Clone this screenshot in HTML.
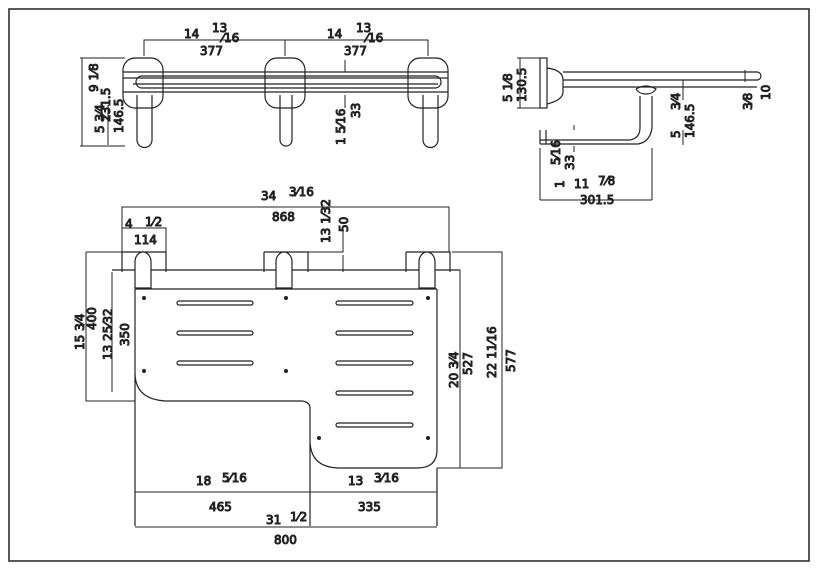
<!DOCTYPE html>
<html><head><style>body{margin:0;background:#fff}svg{display:block}text{font-family:"DejaVu Sans","Liberation Sans",sans-serif;font-size:12px;fill:#222;font-weight:normal}</style></head><body>
<svg width="818" height="571" viewBox="0 0 818 571" fill="none" stroke="#222" stroke-width="1">
<rect x="9" y="9" width="800" height="552" stroke-width="1.5"/>
<!-- FRONT VIEW -->
<path d="M144 56V40H428V56M285 40V56"/>
<g stroke-width="1.2">
<rect x="123" y="58" width="40" height="50" rx="12"/>
<rect x="265" y="58" width="40" height="50" rx="12"/>
<rect x="408" y="58" width="40" height="50" rx="12"/>
<path d="M123 72H448M123 78H448M133 84H438M123 92H448"/>
<rect x="136" y="76" width="305" height="12" rx="6"/>
<path d="M137 95V140a7 7 0 0 0 15 0V95M280 95V140a6 6 0 0 0 12 0V95M423 95V140a7 7 0 0 0 15 0V95"/>
</g>
<path d="M80 58H125M80 146H125M82 58V146M108 105V145M345 60V72M345 95V108"/>
<text x="184" y="38">14</text><text x="212" y="32">13</text><text x="222" y="42">⁄16</text><text x="200" y="55">377</text>
<text x="327" y="38">14</text><text x="356" y="32">13</text><text x="366" y="42">⁄16</text><text x="344" y="55">377</text>
<text transform="translate(98 92) rotate(-90)">9 1⁄8</text>
<text transform="translate(110 122) rotate(-90)">231.5</text>
<text transform="translate(104 133) rotate(-90)">5 3⁄4</text>
<text transform="translate(123 133) rotate(-90)">146.5</text>
<text transform="translate(345 145) rotate(-90)">1 5⁄16</text>
<text transform="translate(360 118) rotate(-90)">33</text>
<!-- SIDE VIEW -->
<g stroke-width="1.2">
<rect x="540" y="58" width="7" height="50"/>
<path d="M547 68q16 2 16 12v12q0 8-16 12M563 72H757M563 80H757M563 87H757M757 72a4 4 0 0 1 0 8"/>
<path d="M636 89q10-6 20 0q-3 5-10 5q-7 0-10-5M640 96V128q0 10-10 12H540M652 96V128q-2 14-14 16H540M540 130V144M546 130V144"/>
</g>
<path d="M517 58H540M517 108H540M520 58V108M745 70V82M683 80V100M683 130V145M574 125V130M574 146V152M540 148V200M652 148V200M540 200H652"/>
<text transform="translate(512 102) rotate(-90)">5 1⁄8</text>
<text transform="translate(526 102) rotate(-90)">130.5</text>
<text transform="translate(680 110) rotate(-90)">3⁄4</text>
<text transform="translate(694 138) rotate(-90)">146.5</text>
<text transform="translate(680 138) rotate(-90)">5</text>
<text transform="translate(752 110) rotate(-90)">3⁄8</text>
<text transform="translate(770 100) rotate(-90)">10</text>
<text transform="translate(560 165) rotate(-90)">5⁄16</text>
<text transform="translate(574 170) rotate(-90)">33</text>
<text transform="translate(564 188) rotate(-90)">1</text>
<text x="574" y="188">11</text><text x="598" y="185">7⁄8</text>
<text x="580" y="204">301.5</text>
<!-- PLAN VIEW -->
<path d="M122 252V207H449V252"/>
<path d="M122 228H166V252"/>
<text x="261" y="200">34</text><text x="289" y="196">3⁄16</text><text x="272" y="221">868</text>
<text x="125" y="228">4</text><text x="145" y="226">1⁄2</text><text x="134" y="244">114</text>
<text transform="translate(330 243) rotate(-90)">13 1⁄32</text>
<text transform="translate(348 232) rotate(-90)">50</text>
<path d="M343 228V252H305M343 255V272"/>
<g stroke-width="1.2">
<path d="M122 252H166V272M122 252V272M264 252H308V272M264 252V272M406 252H450V272M406 252V272"/>
<path d="M112 270H460"/>
<path d="M135 262a8 10 0 0 1 16 0v26h-16zM276 262a8 10 0 0 1 16 0v26h-16zM419 262a8 10 0 0 1 16 0v26h-16z" fill="#fff"/>
<path d="M135 289V526M135 289H437M437 289V450q0 18-20 18H340q-30 0-30-28V408q0-6-8-7H165q-30-2-30-28M310 440V526M437 468V526"/>
</g>
<g stroke-width="1.2">
<rect x="177" y="301" width="76" height="4" rx="2"/><rect x="177" y="331" width="76" height="4" rx="2"/><rect x="177" y="361" width="76" height="4" rx="2"/>
<rect x="336" y="301" width="77" height="4" rx="2"/><rect x="336" y="331" width="77" height="4" rx="2"/><rect x="336" y="361" width="77" height="4" rx="2"/><rect x="336" y="391" width="77" height="4" rx="2"/><rect x="336" y="423" width="77" height="4" rx="2"/>
</g>
<g fill="#222" stroke="none"><circle cx="144" cy="298" r="2"/><circle cx="286" cy="298" r="2"/><circle cx="428" cy="298" r="2"/><circle cx="144" cy="371" r="2"/><circle cx="286" cy="371" r="2"/><circle cx="319" cy="438" r="2"/><circle cx="428" cy="438" r="2"/></g>
<path d="M86 252H122M86 252V401H135M112 272V392M452 252H502V468H437M460 270V468"/>
<text transform="translate(84 350) rotate(-90)">15 3⁄4</text>
<text transform="translate(96 330) rotate(-90)">400</text>
<text transform="translate(112 360) rotate(-90)">13 25⁄32</text>
<text transform="translate(129 346) rotate(-90)">350</text>
<text transform="translate(458 388) rotate(-90)">20 3⁄4</text>
<text transform="translate(472 375) rotate(-90)">527</text>
<text transform="translate(496 378) rotate(-90)">22 11⁄16</text>
<text transform="translate(515 372) rotate(-90)">577</text>
<path d="M135 492H437M310 492V485M135 527H437"/>
<text x="196" y="485">18</text><text x="222" y="482">5⁄16</text><text x="209" y="511">465</text>
<text x="348" y="485">13</text><text x="374" y="482">3⁄16</text><text x="358" y="511">335</text>
<text x="266" y="524">31</text><text x="290" y="521">1⁄2</text><text x="274" y="544">800</text>
</svg>
</body></html>
